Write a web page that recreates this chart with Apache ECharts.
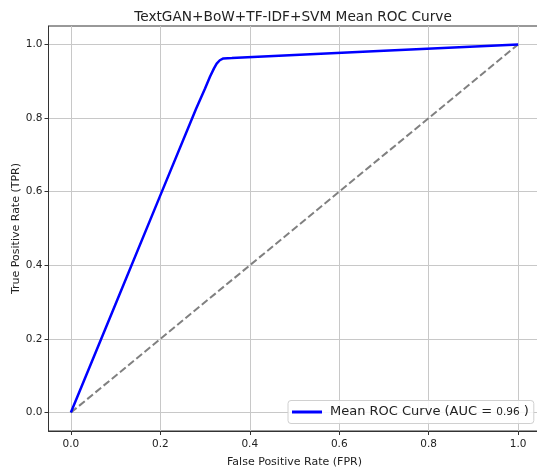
<!DOCTYPE html>
<html>
<head>
<meta charset="utf-8">
<script src="https://cdn.jsdelivr.net/npm/echarts@6/dist/echarts.min.js"></script>
<style>html,body{margin:0;padding:0;background:#fff;}#c{width:537px;height:475px;}</style>
</head>
<body>
<div id="c"></div>
<script>
var titleText = 'TextGAN+BoW+TF-IDF+SVM Mean ROC Curve';
var xTicks = [0, 0.2, 0.4, 0.6, 0.8, 1.0];
var yTicks = [0, 0.2, 0.4, 0.6, 0.8, 1.0];
var rocFpr = [0, 0.1, 0.2, 0.28, 0.30, 0.311, 0.32, 0.326, 0.333, 0.341, 0.36, 0.5, 0.7, 1.0];
var rocTpr = [0, 0.295, 0.59, 0.825, 0.88, 0.912, 0.935, 0.948, 0.957, 0.962, 0.963, 0.971, 0.983, 1.0];
var diagX = [0, 1];
var diagY = [0, 1];
var aucValue = '0.96';
var seriesName = 'Mean ROC Curve';

var font = 'DejaVu Sans';
var rocData = rocFpr.map(function (x, i) { return [x, rocTpr[i]]; });
var diagData = diagX.map(function (x, i) { return [x, diagY[i]]; });

var chart = echarts.init(document.getElementById('c'));
chart.setOption({
  animation: false,
  backgroundColor: '#fff',
  title: {
    text: titleText,
    left: 288, textAlign: 'center', top: 5,
    textStyle: { fontFamily: font, fontSize: 13.7, fontWeight: 'normal', color: '#222' }
  },
  grid: { left: 48.5, top: 26, width: 492, height: 405, containLabel: false,
          outerBoundsMode: 'none',
          show: true, borderColor: '#333', borderWidth: 1 },
  xAxis: {
    type: 'value', min: -0.05, max: 1.05,
    name: 'False Positive Rate (FPR)', nameLocation: 'middle', nameGap: 26,
    nameMoveOverlap: false,
    nameTextStyle: { fontFamily: font, fontSize: 11, color: '#222' },
    axisLine: { show: true, onZero: false, lineStyle: { color: '#333', width: 1 } },
    axisTick: { show: true, length: 4, customValues: xTicks, lineStyle: { color: '#333' } },
    axisLabel: { customValues: xTicks, fontFamily: font, fontSize: 10.5, color: '#222', margin: 8,
                 formatter: function (v) { return v.toFixed(1); } },
    splitLine: { show: true, lineStyle: { color: '#c8c8c8', width: 1 } }
  },
  yAxis: {
    type: 'value', min: -0.05, max: 1.05,
    name: 'True Positive Rate (TPR)', nameLocation: 'middle', nameGap: 27,
    nameMoveOverlap: false,
    nameTextStyle: { fontFamily: font, fontSize: 11, color: '#222' },
    axisLine: { show: true, onZero: false, lineStyle: { color: '#333', width: 1 } },
    axisTick: { show: true, length: 4, customValues: yTicks, lineStyle: { color: '#333' } },
    axisLabel: { customValues: yTicks, fontFamily: font, fontSize: 10.5, color: '#222', margin: 6,
                 formatter: function (v) { return v.toFixed(1); } },
    splitLine: { show: true, lineStyle: { color: '#c8c8c8', width: 1 } }
  },
  legend: {
    data: [{ name: seriesName, icon: 'rect' }],
    left: 288, top: 400.5,
    itemWidth: 30, itemHeight: 3, itemGap: 8,
    padding: [5, 5, 5, 4],
    borderColor: '#d0d0d0', borderWidth: 1, borderRadius: 3,
    backgroundColor: 'rgba(255,255,255,0.85)',
    formatter: function (name) { return name + ' (AUC = {s|' + aucValue + '} )'; },
    textStyle: { fontFamily: font, fontSize: 13, color: '#222', padding: [0, 0, 0, 3],
                 rich: { s: { fontFamily: font, fontSize: 10.5, color: '#222' } } }
  },
  series: [
    {
      name: 'diag', type: 'line', data: diagData, showSymbol: false, symbol: 'none',
      lineStyle: { color: '#808080', width: 2, type: [7.4, 3.2] }, z: 2, silent: true
    },
    {
      name: seriesName, type: 'line', data: rocData, showSymbol: false, symbol: 'none',
      smooth: false,
      itemStyle: { color: '#0000ff' },
      lineStyle: { color: '#0000ff', width: 2.5 }, z: 3
    }
  ]
});
</script>
</body>
</html>
